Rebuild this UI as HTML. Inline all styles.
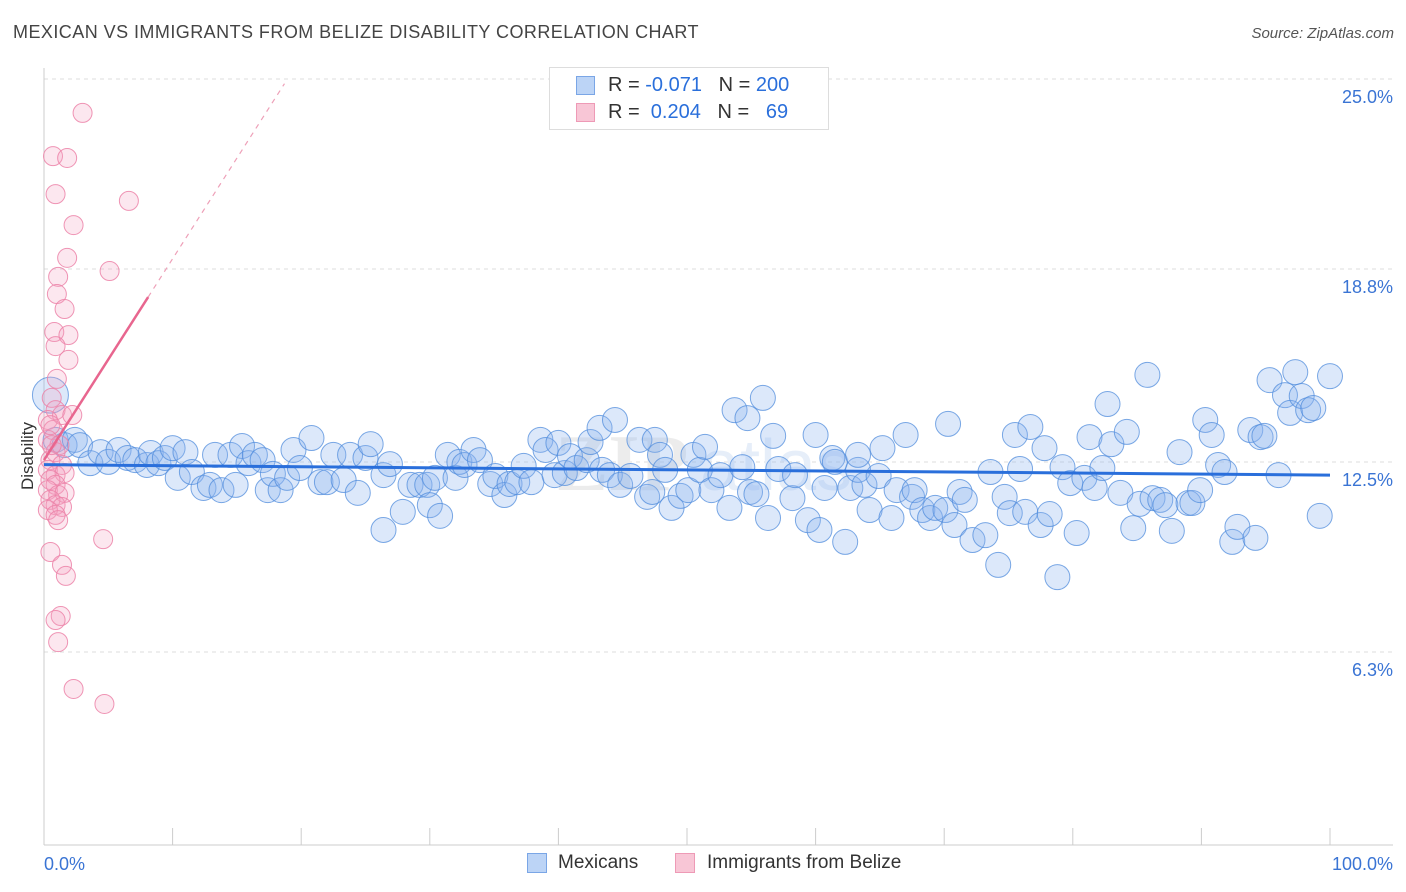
<!DOCTYPE html>
<html><head><meta charset="utf-8"><style>
body{margin:0;background:#fff;font-family:"Liberation Sans",sans-serif;}
#wrap{position:relative;width:1406px;height:892px;overflow:hidden;}
.t{position:absolute;white-space:nowrap;}
</style></head><body>
<div id="wrap">
<div class="t" style="left:13px;top:22px;font-size:18px;color:#444;letter-spacing:0.45px">MEXICAN VS IMMIGRANTS FROM BELIZE DISABILITY CORRELATION CHART</div>
<div class="t" style="right:12px;top:25px;font-size:15px;color:#555;font-style:italic">Source: ZipAtlas.com</div>
<svg id="svg" width="1406" height="892" style="position:absolute;left:0;top:0"></svg>
</div>
<script>
const xTickVals=[0,10,20,30,40,50,60,70,80,90,100];
const yTickVals=[25.0,18.8,12.5,6.3];
const yTickLabels=["25.0%","18.8%","12.5%","6.3%"];
const blueX=[0.5,0.9,1.6,2.4,2.8,3.6,4.4,5.0,5.8,6.5,7.1,8.0,8.3,8.9,9.4,10.0,10.4,11.0,11.5,12.4,12.9,13.3,13.8,14.5,14.9,15.4,15.9,16.4,17.0,17.4,17.8,18.4,18.9,19.4,19.9,20.8,21.5,22.0,22.5,23.3,23.8,24.4,25.0,25.4,26.4,26.4,26.9,27.9,28.5,29.2,29.8,30.0,30.8,30.4,31.4,32.0,32.3,32.7,33.4,33.9,34.7,35.1,35.8,36.2,36.8,37.3,37.9,38.6,39.0,39.7,40.0,40.5,40.9,41.4,42.2,42.5,43.2,43.4,44.0,44.4,44.8,45.6,46.3,46.9,47.3,47.5,47.9,48.3,48.8,49.5,50.1,50.5,51.0,51.4,51.9,52.6,53.3,53.7,54.3,54.7,54.9,55.4,55.9,56.3,56.7,57.1,58.2,58.4,59.4,60.0,60.3,60.7,61.3,61.5,62.3,62.7,63.3,63.3,63.8,64.2,64.9,65.2,65.9,66.3,67.0,67.5,67.7,68.3,68.9,69.3,70.1,70.3,70.8,71.2,71.6,72.2,73.2,73.6,74.2,74.7,75.1,75.5,75.9,76.3,76.7,77.5,77.8,78.2,78.8,79.2,79.8,80.3,80.9,81.3,81.7,82.3,82.7,83.0,83.7,84.2,84.7,85.2,85.8,86.2,86.8,87.2,87.7,88.3,89.0,89.3,89.9,90.3,90.8,91.3,91.8,92.4,92.8,93.8,94.2,94.6,94.9,95.3,96.0,96.5,96.9,97.3,97.8,98.3,98.7,99.2,100];
const blueY=[15.27,13.81,13.64,13.81,13.64,13.05,13.41,13.09,13.48,13.22,13.15,12.99,13.38,13.05,13.22,13.54,12.57,13.41,12.76,12.24,12.34,13.32,12.17,13.32,12.34,13.61,13.05,13.32,13.15,12.17,12.70,12.17,12.57,13.48,12.89,13.87,12.43,12.43,13.32,12.5,13.32,12.08,13.22,13.67,10.87,12.66,13.02,11.46,12.34,12.34,12.34,11.68,11.33,12.57,13.32,12.57,13.09,12.99,13.48,13.15,12.37,12.63,12.01,12.37,12.43,12.96,12.43,13.81,13.48,12.66,13.71,12.73,13.28,12.89,13.15,13.74,14.20,12.83,12.66,14.46,12.34,12.63,13.81,11.95,12.11,13.81,13.32,12.83,11.59,11.98,12.17,13.32,12.83,13.58,12.17,12.66,11.59,14.78,12.92,14.52,12.11,12.04,15.18,11.26,13.94,12.86,11.91,12.66,11.19,13.97,10.87,12.24,13.22,13.09,10.48,12.24,12.83,13.32,12.34,11.52,12.63,13.54,11.26,12.17,13.97,11.95,12.17,11.52,11.26,11.59,11.52,14.33,11.03,12.11,11.85,10.54,10.70,12.76,9.73,11.95,11.42,13.97,12.86,11.46,14.23,11.03,13.54,11.39,9.33,12.92,12.40,10.77,12.57,13.90,12.24,12.89,14.98,13.67,12.08,14.07,10.93,11.72,15.93,11.91,11.85,11.68,10.84,13.41,11.75,11.75,12.17,14.46,13.97,12.99,12.76,10.48,10.97,14.13,10.61,13.90,13.94,15.76,12.66,15.27,14.69,16.02,15.24,14.78,14.85,11.33,15.89];
const pinkX=[3.0,0.7,1.8,0.9,6.6,2.3,1.8,5.1,1.1,1.0,1.6,0.8,1.9,0.9,1.9,1.0,0.6,0.9,1.4,2.2,0.3,0.7,0.3,1.2,0.9,0.5,1.4,0.3,0.9,1.6,0.5,0.9,0.3,1.1,1.6,0.5,0.9,1.4,0.3,0.9,1.1,4.6,0.5,1.4,1.7,1.3,0.9,1.1,2.3,4.7,0.5,0.6];
const pinkY=[24.48,23.07,23.01,21.83,21.61,20.82,19.75,19.32,19.13,18.57,18.08,17.33,17.23,16.87,16.42,15.80,15.18,14.78,14.62,14.62,14.46,14.13,13.81,13.64,13.41,13.15,12.99,12.83,12.66,12.73,12.5,12.34,12.17,12.01,12.08,11.85,11.68,11.62,11.52,11.36,11.19,10.57,10.15,9.73,9.37,8.06,7.93,7.21,5.68,5.19,14.29,13.64];
const blueTrend=[13.0,12.66];
const pinkTrend=[13.15,0.657];

const svg=document.getElementById('svg');
const NS='http://www.w3.org/2000/svg';
const X0=44,X1=1330;
function xs(v){return X0+(v/100)*(X1-X0);}
function ys(v){return 480-(v-12.5)*30.64;}
function mk(tag,attrs,parent){const e=document.createElementNS(NS,tag);for(const k in attrs)e.setAttribute(k,attrs[k]);(parent||svg).appendChild(e);return e;}

yTickVals.forEach((v,i)=>{
  const g=mk('line',{x1:44,x2:1393,y1:ys(v)-18,y2:ys(v)-18,stroke:'#ddd','stroke-dasharray':'4 4'});
  
  
  const t=mk('text',{x:1393,y:ys(v)+6,'text-anchor':'end','font-size':18,fill:'#3a74d4','font-family':'Liberation Sans, sans-serif'});
  t.textContent=yTickLabels[i];
  
  
});
let a=mk('line',{x1:44,x2:44,y1:68,y2:845,stroke:'#ccc'});


a=mk('line',{x1:44,x2:1393,y1:845,y2:845,stroke:'#ccc'});


xTickVals.forEach(v=>{
  const l=mk('line',{x1:xs(v),x2:xs(v),y1:828,y2:845,stroke:'#ccc'});
  
  
});
let tt=mk('text',{x:44,y:870,'font-size':18,fill:'#3a74d4','font-family':'Liberation Sans, sans-serif'});tt.textContent='0.0%';


tt=mk('text',{x:1393,y:870,'text-anchor':'end','font-size':18,fill:'#3a74d4','font-family':'Liberation Sans, sans-serif'});tt.textContent='100.0%';


tt=mk('text',{x:33,y:456,'text-anchor':'middle','font-size':17,fill:'#333',transform:'rotate(-90 33 456)','font-family':'Liberation Sans, sans-serif'});tt.textContent='Disability';


tt=mk('text',{x:555,y:490,'font-size':80,fill:'#ececec','font-family':'Liberation Serif, serif','font-weight':'bold'});tt.textContent='ZIP';


tt=mk('text',{x:700,y:490,'font-size':72,fill:'#e6eef9','font-family':'Liberation Sans, sans-serif'});tt.textContent='atlas';



blueX.forEach((x,i)=>{
  const c=mk('circle',{cx:xs(x),cy:ys(blueY[i]),r:i==0?18:12.5,fill:'rgba(140,180,240,0.3)',stroke:'rgba(80,140,220,0.75)','stroke-width':1});
  
  
});
pinkX.forEach((x,i)=>{
  const c=mk('circle',{cx:xs(x),cy:ys(pinkY[i]),r:9.5,fill:'rgba(245,160,190,0.25)',stroke:'rgba(236,130,168,0.85)','stroke-width':1});
  
  
});
let l=mk('line',{x1:xs(0),y1:ys(blueTrend[0]),x2:xs(100),y2:ys(blueTrend[1]),stroke:'#2a6fdb','stroke-width':3});


const pEnd=8.1, pMax=18.7;
l=mk('line',{x1:xs(0),y1:ys(pinkTrend[0]),x2:xs(pEnd),y2:ys(pinkTrend[0]+pinkTrend[1]*pEnd),stroke:'#e8668f','stroke-width':2.5});


l=mk('line',{x1:xs(pEnd),y1:ys(pinkTrend[0]+pinkTrend[1]*pEnd),x2:xs(pMax),y2:ys(pinkTrend[0]+pinkTrend[1]*pMax),stroke:'#eea0b8','stroke-width':1.2,'stroke-dasharray':'5 5'});


</script>
<div class="t" style="left:549px;top:67px;width:280px;height:63px;border:1px solid #ddd;background:#fff;box-sizing:border-box">
 <div style="position:absolute;left:26px;top:8px;width:19px;height:19px;background:#bcd4f6;border:1px solid #7aa6e6;box-sizing:border-box"></div>
 <div class="t" style="left:58px;top:6px;font-size:20px;color:#333">R = <span style="color:#2a6fdb">-0.071</span>&nbsp;&nbsp;&nbsp;N = <span style="color:#2a6fdb">200</span></div>
 <div style="position:absolute;left:26px;top:35px;width:19px;height:19px;background:#f8c6d6;border:1px solid #ee9ab6;box-sizing:border-box"></div>
 <div class="t" style="left:58px;top:33px;font-size:20px;color:#333">R = &nbsp;<span style="color:#2a6fdb">0.204</span>&nbsp;&nbsp;&nbsp;N = &nbsp;&nbsp;<span style="color:#2a6fdb">69</span></div>
</div>
<div style="position:absolute;left:527px;top:853px;width:20px;height:20px;background:#bcd4f6;border:1px solid #7aa6e6;box-sizing:border-box"></div>
<div class="t" style="left:558px;top:852px;font-size:19px;color:#333">Mexicans</div>
<div style="position:absolute;left:675px;top:853px;width:20px;height:20px;background:#f8c6d6;border:1px solid #ee9ab6;box-sizing:border-box"></div>
<div class="t" style="left:707px;top:852px;font-size:19px;color:#333">Immigrants from Belize</div>
</body></html>
